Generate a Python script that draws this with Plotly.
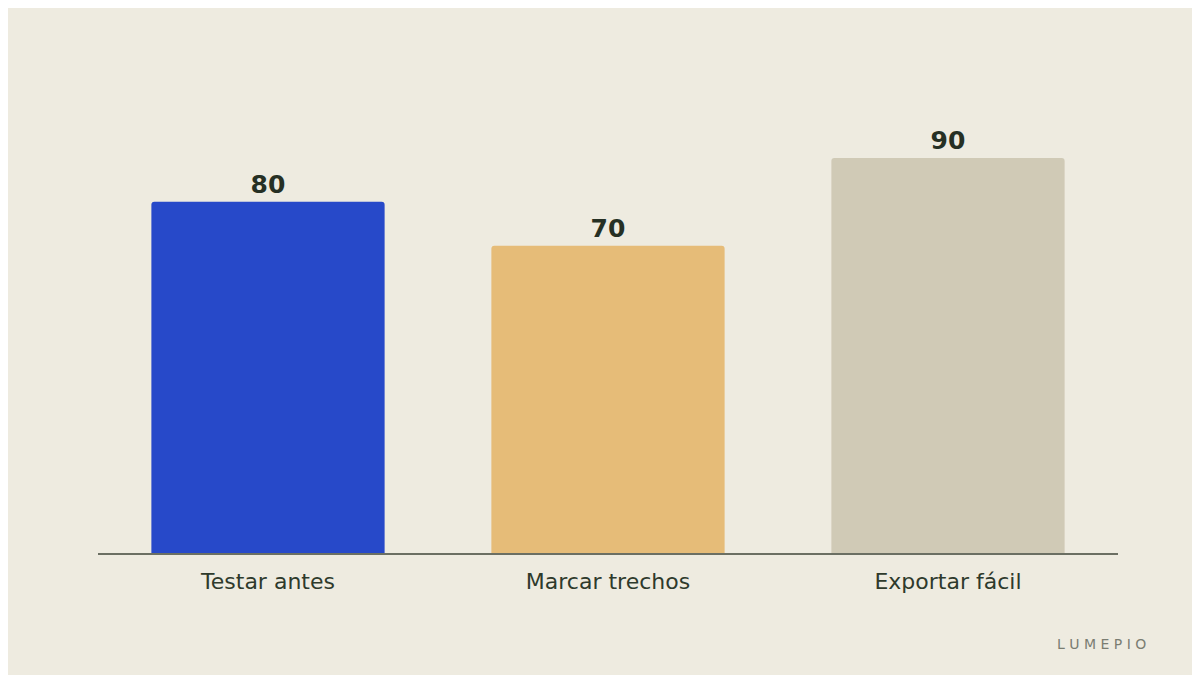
import plotly.graph_objects as go

categorias = ["Testar antes", "Marcar trechos", "Exportar fácil"]
valores = [80, 70, 90]
cores = ["#2749c9", "#e6bc78", "#d0cab6"]

fig = go.Figure()
fig.add_trace(go.Bar(
    x=categorias, y=valores,
    marker=dict(color=cores, line=dict(width=0)),
    text=[str(v) for v in valores],
    textposition="outside",
    textfont=dict(family="DejaVu Sans", size=25, color="#263024"),
    texttemplate="<b>%{text}</b>",
    cliponaxis=False,
    width=0.686,
))

fig.update_layout(
    width=1200, height=675,
    paper_bgcolor="#eeebe0", plot_bgcolor="#eeebe0",
    margin=dict(l=90, r=90, t=106, b=130),
    barcornerradius=3,
    showlegend=False,
    font=dict(family="DejaVu Sans", color="#263024"),
    xaxis=dict(showgrid=False, showline=True, linecolor="#6b6f63", linewidth=2,
               tickfont=dict(size=22, color="#2e3a2c"), ticks="", ticklabelstandoff=8),
    yaxis=dict(range=[0, 100], visible=False, showgrid=False, zeroline=False),
    annotations=[dict(text="LUMEPIO", x=1140, y=636, xref="paper", yref="paper",
                      showarrow=False)],
)
fig.layout.annotations = []
fig.add_annotation(text="L U M E P I O", xref="paper", yref="paper",
                   x=(1140 - 90) / 1020, y=-(636 - 545) / 439, xanchor="right", yanchor="middle",
                   showarrow=False, font=dict(size=14, color="#7a7d72"))

fig.write_html("out.html")
